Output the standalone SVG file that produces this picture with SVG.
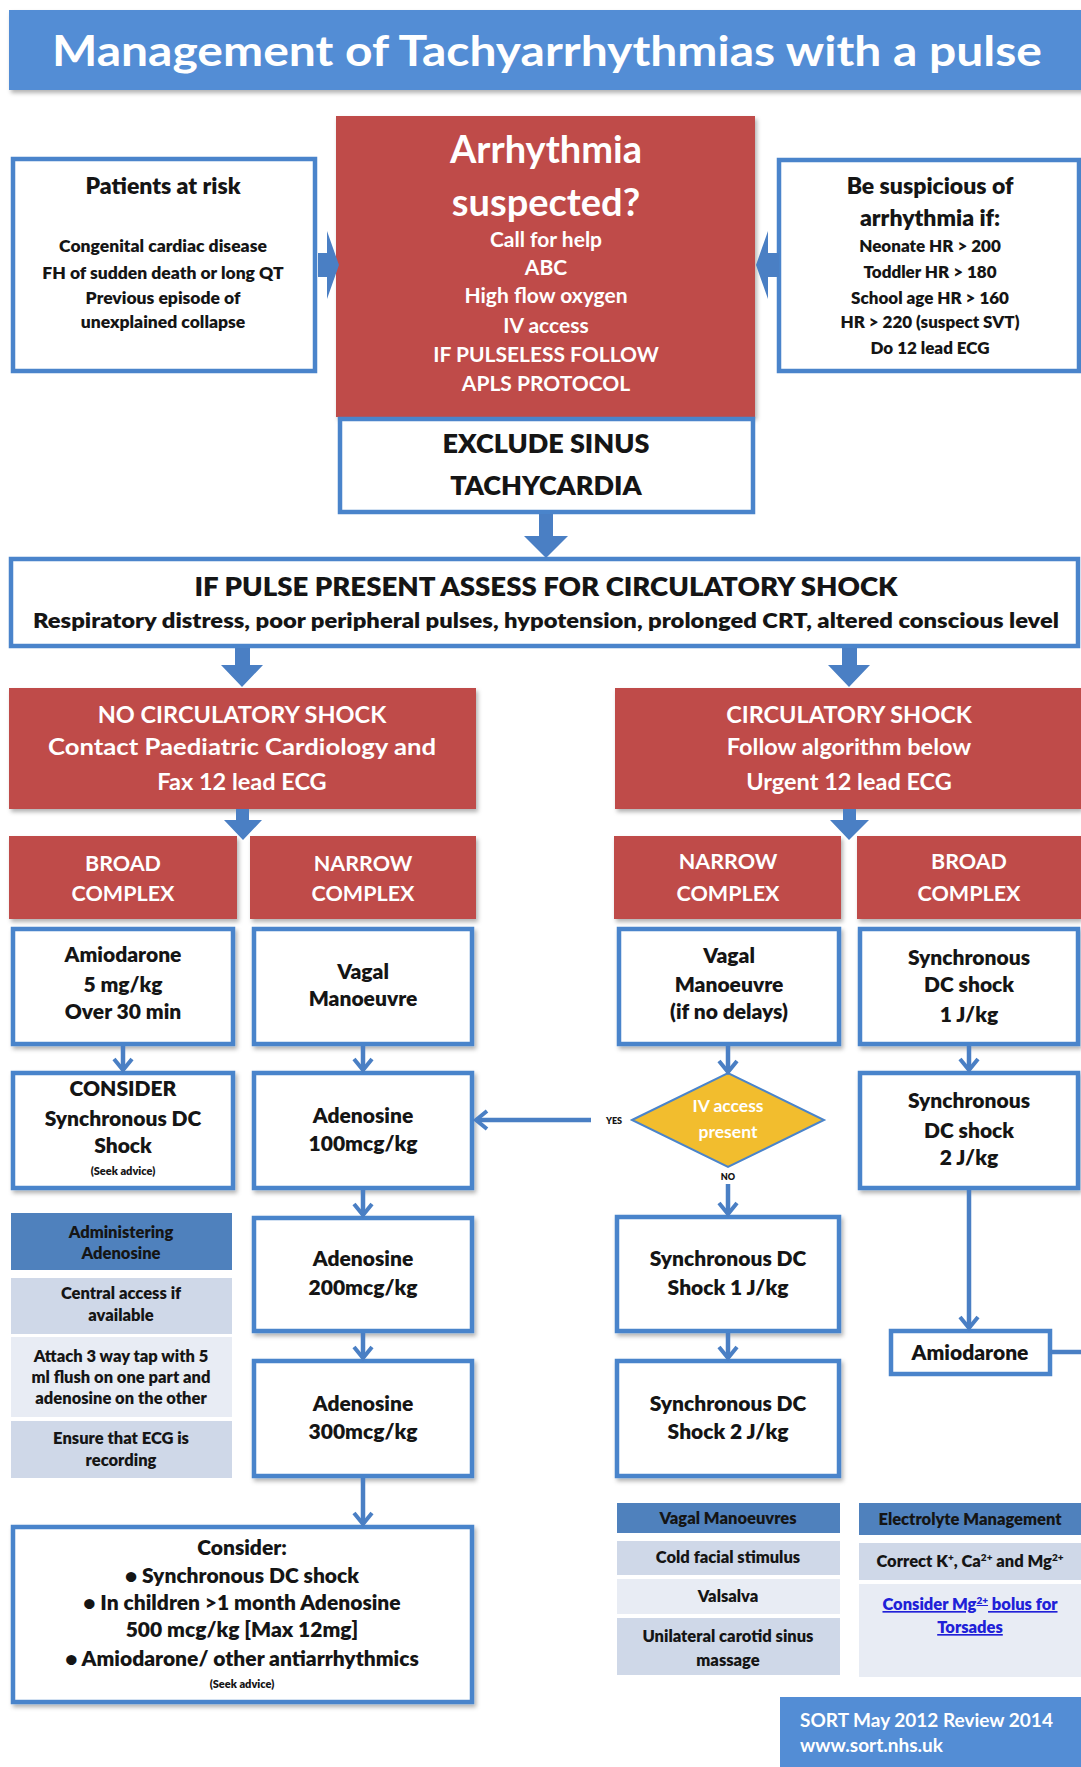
<svg xmlns="http://www.w3.org/2000/svg" width="1081" height="1767" viewBox="0 0 1081 1767">
<defs>
<filter id="sh" x="-5%" y="-5%" width="115%" height="120%">
<feDropShadow dx="2" dy="3" stdDeviation="2" flood-color="#000" flood-opacity="0.3"/>
</filter>
<marker id="chev" markerUnits="userSpaceOnUse" markerWidth="24" markerHeight="24" viewBox="0 0 24 24" refX="19" refY="12" orient="auto">
<path d="M8,3 L19,12 L8,21" fill="none" stroke="#4A7FC4" stroke-width="4"/>
</marker>
<style>
text{font-family:Lato,"Liberation Sans",Arial,sans-serif;font-weight:800;text-anchor:middle}
.w{fill:#fff;font-weight:700}
.k{fill:#151515}
.red{fill:#BF4B48}
.box{fill:#fff;stroke:#4A84CB;stroke-width:4.5}
.fat{fill:#4A7FC4}
.ln{stroke:#4A7FC4;stroke-width:4.5;fill:none}
.hd{fill:#4F81BD}
.r1{fill:#CFD8E8}
.r2{fill:#E8ECF4}
</style>
</defs>
<rect width="1081" height="1767" fill="#fff"/>

<g id="title">
<rect x="9" y="10" width="1080" height="80" fill="#538DD5" filter="url(#sh)"/>
<text class="w" x="547" y="66" font-size="42" textLength="990" lengthAdjust="spacingAndGlyphs">Management of Tachyarrhythmias with a pulse</text>
</g>

<g id="patients-at-risk">
<rect class="box" x="13" y="159" width="302" height="212"/>
<text class="k" x="163" y="194" font-size="23">Patients at risk</text>
<text class="k" x="163" y="252" font-size="17.5">Congenital cardiac disease</text>
<text class="k" x="163" y="279" font-size="17.5">FH of sudden death or long QT</text>
<text class="k" x="163" y="304" font-size="17.5">Previous episode of</text>
<text class="k" x="163" y="328" font-size="17.5">unexplained collapse</text>
</g>

<g id="arrhythmia-suspected">
<rect class="red" x="336" y="116" width="419" height="301" filter="url(#sh)"/>
<text class="w" x="546" y="163" font-size="38">Arrhythmia</text>
<text class="w" x="546" y="216" font-size="38">suspected?</text>
<text class="w" x="546" y="247" font-size="21">Call for help</text>
<text class="w" x="546" y="275" font-size="21">ABC</text>
<text class="w" x="546" y="303" font-size="21">High flow oxygen</text>
<text class="w" x="546" y="333" font-size="21">IV access</text>
<text class="w" x="546" y="362" font-size="21">IF PULSELESS FOLLOW</text>
<text class="w" x="546" y="391" font-size="21">APLS PROTOCOL</text>
</g>

<g id="exclude-sinus">
<rect class="box" x="340" y="419" width="413" height="93"/>
<text class="k" x="546" y="453" font-size="27" font-weight="700">EXCLUDE SINUS</text>
<text class="k" x="546" y="495" font-size="27" font-weight="700">TACHYCARDIA</text>
</g>

<g id="be-suspicious">
<rect class="box" x="779" y="160" width="300" height="211"/>
<text class="k" x="930" y="194" font-size="23">Be suspicious of</text>
<text class="k" x="930" y="226" font-size="23">arrhythmia if:</text>
<text class="k" x="930" y="252" font-size="17">Neonate HR &gt; 200</text>
<text class="k" x="930" y="278" font-size="17">Toddler HR &gt; 180</text>
<text class="k" x="930" y="304" font-size="17">School age HR &gt; 160</text>
<text class="k" x="930" y="328" font-size="17">HR &gt; 220 (suspect SVT)</text>
<text class="k" x="930" y="354" font-size="17">Do 12 lead ECG</text>
</g>

<g id="assess-shock">
<rect class="box" x="11" y="559" width="1067" height="87"/>
<text class="k" x="546" y="596" font-size="27" font-weight="700" textLength="703" lengthAdjust="spacingAndGlyphs">IF PULSE PRESENT ASSESS FOR CIRCULATORY SHOCK</text>
<text class="k" x="546" y="628" font-size="21" textLength="1026" lengthAdjust="spacingAndGlyphs">Respiratory distress, poor peripheral pulses, hypotension, prolonged CRT, altered conscious level</text>
</g>

<g id="no-circulatory-shock">
<rect class="red" x="9" y="688" width="467" height="121" filter="url(#sh)"/>
<text class="w" x="242" y="723" font-size="23.5">NO CIRCULATORY SHOCK</text>
<text class="w" x="242" y="755" font-size="23.5" textLength="388" lengthAdjust="spacingAndGlyphs">Contact Paediatric Cardiology and</text>
<text class="w" x="242" y="790" font-size="23.5">Fax 12 lead ECG</text>
</g>

<g id="circulatory-shock">
<rect class="red" x="615" y="688" width="466" height="121" filter="url(#sh)"/>
<text class="w" x="849" y="723" font-size="23.5">CIRCULATORY SHOCK</text>
<text class="w" x="849" y="755" font-size="23.5">Follow algorithm below</text>
<text class="w" x="849" y="790" font-size="23.5">Urgent 12 lead ECG</text>
</g>

<g id="broad-left">
<rect class="red" x="9" y="836" width="228" height="83" filter="url(#sh)"/>
<text class="w" x="123" y="871" font-size="21.5">BROAD</text>
<text class="w" x="123" y="901" font-size="21.5">COMPLEX</text>
</g>
<g id="narrow-left">
<rect class="red" x="250" y="836" width="226" height="83" filter="url(#sh)"/>
<text class="w" x="363" y="871" font-size="21.5">NARROW</text>
<text class="w" x="363" y="901" font-size="21.5">COMPLEX</text>
</g>
<g id="narrow-right">
<rect class="red" x="614" y="836" width="227" height="83" filter="url(#sh)"/>
<text class="w" x="728" y="869" font-size="21.5">NARROW</text>
<text class="w" x="728" y="901" font-size="21.5">COMPLEX</text>
</g>
<g id="broad-right">
<rect class="red" x="857" y="836" width="224" height="83" filter="url(#sh)"/>
<text class="w" x="969" y="869" font-size="21.5">BROAD</text>
<text class="w" x="969" y="901" font-size="21.5">COMPLEX</text>
</g>

<g id="amiodarone-5">
<rect class="box" x="13" y="929" width="220" height="115" filter="url(#sh)"/>
<text class="k" x="123" y="962" font-size="21">Amiodarone</text>
<text class="k" x="123" y="992" font-size="21">5 mg/kg</text>
<text class="k" x="123" y="1019" font-size="21">Over 30 min</text>
</g>
<g id="vagal-left">
<rect class="box" x="254" y="929" width="218" height="115" filter="url(#sh)"/>
<text class="k" x="363" y="979" font-size="21">Vagal</text>
<text class="k" x="363" y="1006" font-size="21">Manoeuvre</text>
</g>
<g id="vagal-right">
<rect class="box" x="619" y="929" width="220" height="115" filter="url(#sh)"/>
<text class="k" x="729" y="963" font-size="21">Vagal</text>
<text class="k" x="729" y="992" font-size="21">Manoeuvre</text>
<text class="k" x="729" y="1019" font-size="21">(if no delays)</text>
</g>
<g id="sync-dc-1">
<rect class="box" x="860" y="929" width="218" height="115" filter="url(#sh)"/>
<text class="k" x="969" y="965" font-size="21">Synchronous</text>
<text class="k" x="969" y="992" font-size="21">DC shock</text>
<text class="k" x="969" y="1022" font-size="21">1 J/kg</text>
</g>

<g id="consider-dc">
<rect class="box" x="13" y="1073" width="220" height="115" filter="url(#sh)"/>
<text class="k" x="123" y="1096" font-size="21">CONSIDER</text>
<text class="k" x="123" y="1126" font-size="21">Synchronous DC</text>
<text class="k" x="123" y="1153" font-size="21">Shock</text>
<text class="k" x="123" y="1175" font-size="11">(Seek advice)</text>
</g>
<g id="adenosine-100">
<rect class="box" x="254" y="1073" width="218" height="115" filter="url(#sh)"/>
<text class="k" x="363" y="1123" font-size="21">Adenosine</text>
<text class="k" x="363" y="1151" font-size="21">100mcg/kg</text>
</g>
<g id="iv-access">
<polygon points="632,1120 728,1073 824,1120 728,1167" fill="#F2BD2E" stroke="#4A84CB" stroke-width="2"/>
<text class="w" x="728" y="1112" font-size="17.5">IV access</text>
<text class="w" x="728" y="1138" font-size="17.5">present</text>
</g>
<g id="sync-dc-2">
<rect class="box" x="860" y="1073" width="218" height="115" filter="url(#sh)"/>
<text class="k" x="969" y="1108" font-size="21">Synchronous</text>
<text class="k" x="969" y="1138" font-size="21">DC shock</text>
<text class="k" x="969" y="1165" font-size="21">2 J/kg</text>
</g>

<g id="administering-adenosine">
<rect class="hd" x="11" y="1213" width="221" height="57"/>
<text class="k" x="121" y="1238" font-size="16.5">Administering</text>
<text class="k" x="121" y="1259" font-size="16.5">Adenosine</text>
<rect class="r1" x="11" y="1278" width="221" height="56"/>
<text class="k" x="121" y="1299" font-size="16.5">Central access if</text>
<text class="k" x="121" y="1321" font-size="16.5">available</text>
<rect class="r2" x="11" y="1337" width="221" height="80"/>
<text class="k" x="121" y="1362" font-size="16.5">Attach 3 way tap with 5</text>
<text class="k" x="121" y="1383" font-size="16.5">ml flush on one part and</text>
<text class="k" x="121" y="1404" font-size="16.5">adenosine on the other</text>
<rect class="r1" x="11" y="1421" width="221" height="57"/>
<text class="k" x="121" y="1444" font-size="16.5">Ensure that ECG is</text>
<text class="k" x="121" y="1466" font-size="16.5">recording</text>
</g>

<g id="adenosine-200">
<rect class="box" x="254" y="1218" width="218" height="113" filter="url(#sh)"/>
<text class="k" x="363" y="1266" font-size="21">Adenosine</text>
<text class="k" x="363" y="1295" font-size="21">200mcg/kg</text>
</g>
<g id="adenosine-300">
<rect class="box" x="254" y="1361" width="218" height="115" filter="url(#sh)"/>
<text class="k" x="363" y="1411" font-size="21">Adenosine</text>
<text class="k" x="363" y="1439" font-size="21">300mcg/kg</text>
</g>
<g id="sync-dc-shock-1">
<rect class="box" x="617" y="1217" width="222" height="114" filter="url(#sh)"/>
<text class="k" x="728" y="1266" font-size="21">Synchronous DC</text>
<text class="k" x="728" y="1295" font-size="21">Shock 1 J/kg</text>
</g>
<g id="sync-dc-shock-2">
<rect class="box" x="617" y="1361" width="222" height="115" filter="url(#sh)"/>
<text class="k" x="728" y="1411" font-size="21">Synchronous DC</text>
<text class="k" x="728" y="1439" font-size="21">Shock 2 J/kg</text>
</g>
<g id="amiodarone">
<rect class="box" x="891" y="1331" width="159" height="43"/>
<text class="k" x="970" y="1360" font-size="21">Amiodarone</text>
</g>

<g id="consider-box">
<rect class="box" x="13" y="1527" width="459" height="175" filter="url(#sh)"/>
<text class="k" x="242" y="1555" font-size="21">Consider:</text>
<text class="k" x="242" y="1583" font-size="21">•  Synchronous DC shock</text>
<text class="k" x="242" y="1610" font-size="21">• In children &gt;1 month Adenosine</text>
<text class="k" x="242" y="1637" font-size="21">500 mcg/kg [Max 12mg]</text>
<text class="k" x="242" y="1666" font-size="21">• Amiodarone/ other antiarrhythmics</text>
<text class="k" x="242" y="1688" font-size="11">(Seek advice)</text>
</g>

<g id="vagal-manoeuvres">
<rect class="hd" x="617" y="1503" width="223" height="30"/>
<text class="k" x="728" y="1524" font-size="16.5">Vagal Manoeuvres</text>
<rect class="r1" x="617" y="1541" width="223" height="34"/>
<text class="k" x="728" y="1563" font-size="16.5">Cold facial stimulus</text>
<rect class="r2" x="617" y="1579" width="223" height="35"/>
<text class="k" x="728" y="1602" font-size="16.5">Valsalva</text>
<rect class="r1" x="617" y="1618" width="223" height="57"/>
<text class="k" x="728" y="1642" font-size="16.5">Unilateral carotid sinus</text>
<text class="k" x="728" y="1666" font-size="16.5">massage</text>
</g>

<g id="electrolyte-management">
<rect class="hd" x="859" y="1503" width="222" height="32"/>
<text class="k" x="970" y="1525" font-size="16.5">Electrolyte Management</text>
<rect class="r1" x="859" y="1543" width="222" height="37"/>
<text class="k" x="970" y="1567" font-size="16.5">Correct K<tspan font-size="10" dy="-6">+</tspan><tspan dy="6">, Ca</tspan><tspan font-size="10" dy="-6">2+</tspan><tspan dy="6"> and Mg</tspan><tspan font-size="10" dy="-6">2+</tspan></text>
<rect class="r2" x="859" y="1584" width="222" height="93"/>
<text x="970" y="1610" font-size="16.5" fill="#2020D8" text-decoration="underline">Consider Mg<tspan font-size="10" dy="-6">2+</tspan><tspan dy="6"> bolus for</tspan></text>
<text x="970" y="1633" font-size="16.5" fill="#2020D8" text-decoration="underline">Torsades</text>
</g>

<g id="footer">
<rect x="780" y="1697" width="301" height="70" fill="#538DD5"/>
<text class="w" x="800" y="1727" font-size="19" style="text-anchor:start">SORT May 2012 Review 2014</text>
<text class="w" x="800" y="1752" font-size="19" style="text-anchor:start">www.sort.nhs.uk</text>
</g>

<g id="connectors">
<path class="fat" d="M318,253 H327 V231 L339,265 L327,299 V277 H318 Z"/>
<path class="fat" d="M779,253 H768 V231 L756,265 L768,299 V277 H779 Z"/>
<path class="fat" d="M539,514 H553 V536 H568 L546,558 L524,536 H539 Z"/>
<path class="fat" d="M235,648 H250 V665 H263 L242,687 L221,665 H235 Z"/>
<path class="fat" d="M842,648 H857 V665 H870 L849,687 L828,665 H842 Z"/>
<path class="fat" d="M236,809 H249 V820 H262 L243,840 L224,820 H236 Z"/>
<path class="fat" d="M843,809 H856 V820 H869 L849,840 L830,820 H843 Z"/>
<line class="ln" x1="123" y1="1046" x2="123" y2="1070" marker-end="url(#chev)"/>
<line class="ln" x1="363" y1="1046" x2="363" y2="1070" marker-end="url(#chev)"/>
<line class="ln" x1="363" y1="1190" x2="363" y2="1215" marker-end="url(#chev)"/>
<line class="ln" x1="363" y1="1333" x2="363" y2="1358" marker-end="url(#chev)"/>
<line class="ln" x1="363" y1="1478" x2="363" y2="1524" marker-end="url(#chev)"/>
<line class="ln" x1="728" y1="1046" x2="728" y2="1072" marker-end="url(#chev)"/>
<line class="ln" x1="728" y1="1184" x2="728" y2="1214" marker-end="url(#chev)"/>
<line class="ln" x1="728" y1="1333" x2="728" y2="1358" marker-end="url(#chev)"/>
<line class="ln" x1="969" y1="1046" x2="969" y2="1070" marker-end="url(#chev)"/>
<line class="ln" x1="969" y1="1190" x2="969" y2="1328" marker-end="url(#chev)"/>
<line class="ln" x1="591" y1="1120" x2="476" y2="1120" marker-end="url(#chev)"/>
<line class="ln" x1="1050" y1="1352" x2="1081" y2="1352"/>
<text class="k" x="614" y="1124" font-size="9">YES</text>
<text class="k" x="728" y="1180" font-size="9">NO</text>
</g>
</svg>
